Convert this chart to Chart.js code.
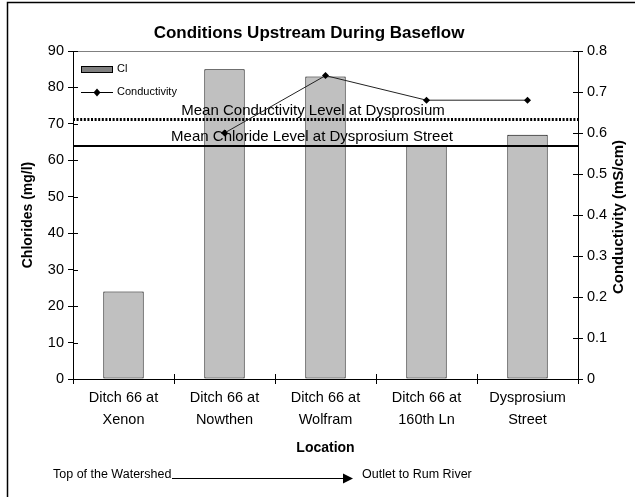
<!DOCTYPE html>
<html>
<head>
<meta charset="utf-8">
<script src="https://cdn.jsdelivr.net/npm/chart.js@4.4.1/dist/chart.umd.min.js"></script>
<style>
  html, body { margin: 0; padding: 0; background: #fff; }
  #wrap { width: 635px; height: 497px; }
</style>
</head>
<body>
<div id="wrap"><canvas id="chart" width="635" height="497"></canvas></div>
<script>
// ===== data =====
const locations = [
  ['Ditch 66 at', 'Xenon'],
  ['Ditch 66 at', 'Nowthen'],
  ['Ditch 66 at', 'Wolfram'],
  ['Ditch 66 at', '160th Ln'],
  ['Dysprosium', 'Street']
];
const chloride = [24, 85, 83, 64, 67];              // mg/l
const conductivity = [null, 0.60, 0.74, 0.68, 0.68]; // mS/cm
const meanChloride = 64;
const meanConductivity = 0.633;

const FONT = "'Liberation Sans', Arial, sans-serif";

// ===== extra drawing: title, border, mean lines, legend, inner ticks, bottom note =====
const extras = {
  id: 'extras',
  afterDatasetDraw(chart, args) {
    if (args.index !== 0) return; // after bars, before the conductivity line
    const ctx = chart.ctx, a = chart.chartArea;
    const y = chart.scales.y, y1 = chart.scales.y1;
    ctx.save();
    // mean conductivity (dotted)
    const yc = Math.round(y1.getPixelForValue(meanConductivity)) + 0.5;
    ctx.strokeStyle = '#000';
    ctx.lineWidth = 3;
    ctx.setLineDash([2, 1.6]);
    ctx.beginPath(); ctx.moveTo(a.left, yc); ctx.lineTo(a.right, yc); ctx.stroke();
    // mean chloride (solid)
    const ycl = Math.round(y.getPixelForValue(meanChloride));
    ctx.setLineDash([]);
    ctx.lineWidth = 2;
    ctx.beginPath(); ctx.moveTo(a.left, ycl); ctx.lineTo(a.right, ycl); ctx.stroke();
    // labels
    ctx.fillStyle = '#000';
    ctx.font = '15px ' + FONT;
    ctx.textAlign = 'center';
    ctx.textBaseline = 'alphabetic';
    ctx.fillText('Mean Conductivity Level at Dysprosium', 313, yc - 5);
    ctx.fillText('Mean Chloride Level at Dysprosium Street', 312, ycl - 5);
    ctx.restore();
  },
  afterDraw(chart) {
    const ctx = chart.ctx, a = chart.chartArea;
    const x = chart.scales.x, y = chart.scales.y, y1 = chart.scales.y1;
    ctx.save();
    // outer frame (cropped on the right and bottom)
    ctx.strokeStyle = '#000';
    ctx.lineWidth = 1.5;
    ctx.beginPath(); ctx.moveTo(7.5, 497); ctx.lineTo(7.5, 2.5); ctx.lineTo(635, 2.5); ctx.stroke();
    // title
    ctx.fillStyle = '#000';
    ctx.font = 'bold 17px ' + FONT;
    ctx.textAlign = 'center';
    ctx.textBaseline = 'middle';
    ctx.fillText('Conditions Upstream During Baseflow', 309, 33);
    // right axis title, reading bottom to top
    ctx.save();
    ctx.translate(619, (a.top + a.bottom) / 2 + 2);
    ctx.rotate(-Math.PI / 2);
    ctx.font = 'bold 15px ' + FONT;
    ctx.fillText('Conductivity (mS/cm)', 0, 0);
    ctx.restore();
    // plot area top edge
    ctx.strokeStyle = '#808080';
    ctx.lineWidth = 1;
    ctx.beginPath(); ctx.moveTo(a.left, a.top + 0.5); ctx.lineTo(a.right, a.top + 0.5); ctx.stroke();
    // inner half of cross ticks
    ctx.strokeStyle = '#000';
    y.ticks.forEach(t => {
      const p = Math.round(y.getPixelForValue(t.value)) + 0.5;
      ctx.beginPath(); ctx.moveTo(a.left, p); ctx.lineTo(a.left + 5, p); ctx.stroke();
    });
    y1.ticks.forEach(t => {
      const p = Math.round(y1.getPixelForValue(t.value)) + 0.5;
      ctx.beginPath(); ctx.moveTo(a.right - 5, p); ctx.lineTo(a.right, p); ctx.stroke();
    });
    for (let i = 0; i <= locations.length; i++) {
      const p = Math.round(x.getPixelForValue(i - 0.5)) + 0.5;
      ctx.beginPath(); ctx.moveTo(p, a.bottom - 5); ctx.lineTo(p, a.bottom); ctx.stroke();
    }
    // legend
    ctx.fillStyle = '#808080';
    ctx.fillRect(81, 66, 32, 7);
    ctx.strokeRect(81.5, 66.5, 31, 6);
    ctx.beginPath(); ctx.moveTo(81, 92.5); ctx.lineTo(113, 92.5); ctx.stroke();
    ctx.fillStyle = '#000';
    ctx.beginPath(); ctx.moveTo(97, 88.5); ctx.lineTo(100.5, 92.5); ctx.lineTo(97, 96.5); ctx.lineTo(93.5, 92.5); ctx.closePath(); ctx.fill();
    ctx.font = '11px ' + FONT;
    ctx.textAlign = 'left';
    ctx.textBaseline = 'middle';
    ctx.fillText('Cl', 117, 69);
    ctx.fillText('Conductivity', 117, 92);
    // bottom note with arrow
    ctx.font = '12.5px ' + FONT;
    ctx.fillText('Top of the Watershed', 53, 475);
    ctx.fillText('Outlet to Rum River', 362, 475);
    ctx.lineWidth = 1;
    ctx.beginPath(); ctx.moveTo(172, 478.5); ctx.lineTo(344, 478.5); ctx.stroke();
    ctx.beginPath(); ctx.moveTo(343, 473.5); ctx.lineTo(353, 478.5); ctx.lineTo(343, 483.5); ctx.closePath(); ctx.fill();
    ctx.restore();
  }
};

new Chart(document.getElementById('chart'), {
  type: 'bar',
  data: {
    labels: locations,
    datasets: [
      {
        label: 'Cl',
        data: chloride,
        yAxisID: 'y',
        backgroundColor: '#C0C0C0',
        borderColor: '#000',
        borderWidth: 1,
        borderSkipped: false,
        barPercentage: 0.8,
        categoryPercentage: 0.5,
        order: 2
      },
      {
        type: 'line',
        label: 'Conductivity',
        data: conductivity,
        yAxisID: 'y1',
        borderColor: '#222',
        borderWidth: 1,
        pointStyle: 'rectRot',
        pointRadius: 3.5,
        pointBackgroundColor: '#000',
        pointBorderColor: '#000',
        pointBorderWidth: 0,
        tension: 0,
        order: 1
      }
    ]
  },
  options: {
    responsive: false,
    animation: false,
    devicePixelRatio: 1,
    layout: { padding: { top: 51 } },
    plugins: {
      legend: { display: false },
      tooltip: { enabled: false },
      title: { display: false }
    },
    scales: {
      x: {
        grid: { drawOnChartArea: false, tickLength: 5, color: '#000', offset: true },
        border: { color: '#000', width: 1 },
        ticks: { color: '#000', font: { family: FONT, size: 14.5, lineHeight: '22px' }, padding: 3, maxRotation: 0, autoSkip: false },
        title: { display: true, text: 'Location', color: '#000', font: { family: FONT, size: 14, weight: 'bold' }, padding: { top: 0, bottom: 40 } },
        afterFit: s => { s.height = 118; }
      },
      y: {
        position: 'left',
        min: 0, max: 90,
        ticks: { stepSize: 10, color: '#000', font: { family: FONT, size: 14.5 }, padding: 4 },
        grid: { drawOnChartArea: false, tickLength: 5, color: '#000' },
        border: { color: '#000', width: 1 },
        title: { display: true, text: 'Chlorides (mg/l)', color: '#000', font: { family: FONT, size: 14, weight: 'bold' }, padding: { top: 20, bottom: 0 } },
        afterFit: s => { s.width = 73; }
      },
      y1: {
        position: 'right',
        min: 0, max: 0.8,
        ticks: { stepSize: 0.1, color: '#000', font: { family: FONT, size: 14.5 }, padding: 4,
          callback: v => (Math.round(v * 10) / 10).toString() },
        grid: { drawOnChartArea: false, tickLength: 5, color: '#000' },
        border: { color: '#000', width: 1 },
        afterFit: s => { s.width = 57; }
      }
    }
  },
  plugins: [extras]
});
</script>
</body>
</html>
